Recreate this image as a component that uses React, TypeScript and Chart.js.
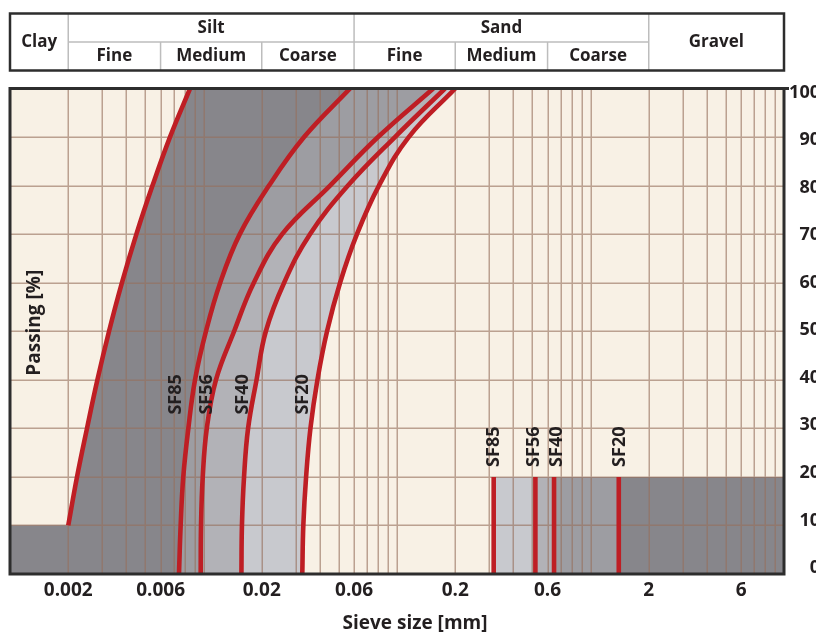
import React, { useEffect, useRef } from "react";
import { Chart, registerables } from "chart.js";

Chart.register(...registerables);

// ---------- data ----------
// passing [%] at which the curve points were read
const PASSING_FULL = [0, 10, 20, 30, 40, 50, 60, 70, 80, 90, 100];
const PASSING_UPPER = [10, 20, 30, 40, 50, 60, 70, 80, 90, 100];

// sieve sizes [mm] of the grading curves
const FINE_LIMIT = [0.002, 0.00222, 0.0025, 0.00283, 0.00325, 0.00379, 0.0045, 0.00545, 0.00671, 0.00852];
const SF85 = [0.00747, 0.00762, 0.00786, 0.00835, 0.00904, 0.0103, 0.0122, 0.0154, 0.0218, 0.0331, 0.0572];
const SF56 = [0.00967, 0.00971, 0.00991, 0.0104, 0.0116, 0.0144, 0.0182, 0.0255, 0.0451, 0.0798, 0.154];
const SF40 = [0.0157, 0.0158, 0.0162, 0.017, 0.0188, 0.021, 0.0261, 0.0355, 0.0558, 0.0976, 0.177];
const SF20 = [0.0324, 0.0328, 0.0339, 0.0357, 0.0388, 0.0435, 0.0508, 0.0621, 0.0807, 0.115, 0.2];

const SERIES_NAMES = ["SF85", "SF56", "SF40", "SF20"];
const SERIES_CURVES = [SF85, SF56, SF40, SF20];
// maximum grain size lines (bottom right)
const MAX_GRAIN = [0.316, 0.519, 0.648, 1.4];
const MAX_GRAIN_PASSING = [0, 20];

// label anchors
const CURVE_LABEL_X = [0.00719, 0.0104, 0.016, 0.0326];
const CURVE_LABEL_Y = 37;
const MAX_LABEL_X = [0.316, 0.509, 0.671, 1.426];

const X_MIN = 0.001;
const X_MAX = 10;
const X_TICKS = [0.002, 0.006, 0.02, 0.06, 0.2, 0.6, 2, 6];
const X_TICK_LABELS = ["0.002", "0.006", "0.02", "0.06", "0.2", "0.6", "2", "6"];
const Y_TICKS = [0, 10, 20, 30, 40, 50, 60, 70, 80, 90, 100];

const CLASS_NAMES = ["Clay", "Silt", "Sand", "Gravel"];
const CLASS_BOUNDS = [0.001, 0.002, 0.06, 2, 10];
const SUBCLASS_NAMES = ["Fine", "Medium", "Coarse", "Fine", "Medium", "Coarse"];
const SUBCLASS_BOUNDS = [0.002, 0.006, 0.02, 0.06, 0.2, 0.6, 2];

// ---------- styles ----------
const RED = "#BE1E24";
const CREAM = "#F8F1E5";
const SHADE = ["#C8C9CE", "#B2B2B7", "#9D9DA2", "#87868B"];
const GRID = "rgba(150,112,92,0.62)";
const FRAME = "#2d2d2d";
const TEXT = "#231F20";
const FONT = '"Open Sans", "DejaVu Sans", sans-serif';

const pts = (xs: number[], ys: number[]) => xs.map((x, i) => ({ x, y: ys[i] }));

function gridValues(): number[] {
  const out: number[] = [];
  for (let e = -3; e <= 0; e++) {
    for (let m = 1; m <= 9; m++) {
      const v = m * Math.pow(10, e);
      if (v > X_MIN * 1.0001 && v < X_MAX * 0.9999) out.push(v);
    }
  }
  return out;
}

const decorPlugin = {
  id: "decor",
  beforeDraw(chart: any) {
    const { ctx, chartArea: a } = chart;
    ctx.save();
    ctx.fillStyle = CREAM;
    ctx.fillRect(a.left, a.top, a.right - a.left, a.bottom - a.top);
    ctx.restore();
  },
  beforeDatasetsDraw(chart: any) {
    // grid over the shaded bands, below the red curves
    const { ctx, chartArea: a, scales } = chart;
    const xs = scales.x;
    const ys = scales.y;
    ctx.save();
    ctx.beginPath();
    ctx.rect(a.left, a.top, a.right - a.left, a.bottom - a.top);
    ctx.clip();
    ctx.strokeStyle = GRID;
    ctx.lineWidth = 1.5;
    ctx.beginPath();
    for (const v of gridValues()) {
      const p = Math.round(xs.getPixelForValue(v)) + 0.25;
      ctx.moveTo(p, a.top);
      ctx.lineTo(p, a.bottom);
    }
    for (const v of Y_TICKS) {
      if (v === 0 || v === 100) continue;
      const p = Math.round(ys.getPixelForValue(v)) + 0.25;
      ctx.moveTo(a.left, p);
      ctx.lineTo(a.right, p);
    }
    ctx.stroke();
    ctx.restore();
  },
  afterDraw(chart: any) {
    const { ctx, chartArea: a, scales } = chart;
    const xs = scales.x;
    const ys = scales.y;
    const px = (v: number) => xs.getPixelForValue(v);

    ctx.save();
    // plot frame
    ctx.strokeStyle = FRAME;
    ctx.lineWidth = 3;
    ctx.strokeRect(a.left, a.top, a.right - a.left, a.bottom - a.top);
    ctx.beginPath();
    ctx.moveTo(a.right, a.top);
    ctx.lineTo(a.right + 5, a.top);
    ctx.stroke();

    // header table
    const hTop = 13.5, hMid = 42, hBot = 70.5;
    const hl = px(CLASS_BOUNDS[0]);
    const hr = px(CLASS_BOUNDS[CLASS_BOUNDS.length - 1]);
    ctx.strokeStyle = "#BDBDBD";
    ctx.lineWidth = 1.5;
    ctx.beginPath();
    for (let i = 1; i < CLASS_BOUNDS.length - 1; i++) {
      const x = px(CLASS_BOUNDS[i]);
      ctx.moveTo(x, hTop);
      ctx.lineTo(x, hBot);
    }
    const subL = SUBCLASS_BOUNDS[0];
    const subR = SUBCLASS_BOUNDS[SUBCLASS_BOUNDS.length - 1];
    ctx.moveTo(px(subL), hMid);
    ctx.lineTo(px(subR), hMid);
    for (const v of SUBCLASS_BOUNDS) {
      if (CLASS_BOUNDS.includes(v)) continue;
      const x = px(v);
      ctx.moveTo(x, hMid);
      ctx.lineTo(x, hBot);
    }
    ctx.stroke();
    ctx.strokeStyle = FRAME;
    ctx.lineWidth = 2.5;
    ctx.strokeRect(hl, hTop, hr - hl, hBot - hTop);

    ctx.fillStyle = TEXT;
    ctx.textAlign = "center";
    ctx.textBaseline = "middle";
    ctx.font = `bold 17px ${FONT}`;
    CLASS_NAMES.forEach((name, i) => {
      const l = CLASS_BOUNDS[i];
      const r = CLASS_BOUNDS[i + 1];
      const cx = (px(l) + px(r)) / 2;
      const hasSub = l >= subL && r <= subR;
      ctx.fillText(name, cx, hasSub ? (hTop + hMid) / 2 : (hTop + hBot) / 2);
    });
    SUBCLASS_NAMES.forEach((name, i) => {
      const cx = (px(SUBCLASS_BOUNDS[i]) + px(SUBCLASS_BOUNDS[i + 1])) / 2;
      ctx.fillText(name, cx, (hMid + hBot) / 2);
    });

    // curve labels
    ctx.font = `bold 18px ${FONT}`;
    SERIES_NAMES.forEach((name, i) => {
      ctx.save();
      ctx.translate(px(CURVE_LABEL_X[i]), ys.getPixelForValue(CURVE_LABEL_Y));
      ctx.rotate(-Math.PI / 2);
      ctx.textAlign = "center";
      ctx.textBaseline = "middle";
      ctx.fillText(name, 0, 0);
      ctx.restore();

      ctx.save();
      ctx.translate(px(MAX_LABEL_X[i]), ys.getPixelForValue(MAX_GRAIN_PASSING[1]) - 10);
      ctx.rotate(-Math.PI / 2);
      ctx.textAlign = "left";
      ctx.textBaseline = "middle";
      ctx.fillText(name, 0, 0);
      ctx.restore();
    });

    // axis titles
    ctx.font = `bold 19px ${FONT}`;
    ctx.textAlign = "center";
    ctx.textBaseline = "middle";
    ctx.fillText("Sieve size [mm]", (a.left + a.right) / 2 + 18, 624);
    ctx.save();
    ctx.translate(a.left + 25, (a.top + a.bottom) / 2 - 8.5);
    ctx.rotate(-Math.PI / 2);
    ctx.fillText("Passing [%]", 0, 0);
    ctx.restore();

    ctx.restore();
  },
};

function curveDataset(label: string, data: any[], fillColor: string) {
  return {
    label,
    data,
    borderColor: RED,
    borderWidth: 4.6,
    backgroundColor: fillColor,
    fill: { value: X_MIN },
    tension: 0.4,
    borderJoinStyle: "round",
    pointRadius: 0,
    pointHoverRadius: 0,
    xAxisID: "x",
    yAxisID: "y",
  };
}

function maxDataset(i: number) {
  return {
    label: SERIES_NAMES[i] + " max",
    data: MAX_GRAIN_PASSING.map((y) => ({ x: MAX_GRAIN[i], y })),
    borderColor: RED,
    borderWidth: 4.6,
    backgroundColor: SHADE[i],
    fill: { value: X_MAX },
    pointRadius: 0,
    pointHoverRadius: 0,
    xAxisID: "x",
    yAxisID: "y",
  };
}

export default function App() {
  const ref = useRef<HTMLCanvasElement>(null);

  useEffect(() => {
    const canvas = ref.current;
    if (!canvas) return;
    const datasets: any[] = [
      curveDataset("Fine limit", pts(FINE_LIMIT, PASSING_UPPER), CREAM),
      ...SERIES_CURVES.map((c, i) => curveDataset(SERIES_NAMES[i], pts(c, PASSING_FULL), SHADE[3 - i])),
      maxDataset(3),
      maxDataset(2),
      maxDataset(1),
      maxDataset(0),
    ];
    const chart = new Chart(canvas, {
      type: "line",
      data: { datasets },
      options: {
        responsive: false,
        animation: false,
        devicePixelRatio: 1,
        indexAxis: "y",
        events: [],
        layout: { padding: { left: 10, top: 88.5, right: 0, bottom: 0 } },
        plugins: {
          legend: { display: false },
          tooltip: { enabled: false },
          filler: { drawTime: "beforeDatasetsDraw", propagate: false },
        },
        scales: {
          x: {
            type: "logarithmic",
            position: "bottom",
            min: X_MIN,
            max: X_MAX,
            bounds: "data",
            grid: { display: false, drawTicks: false },
            border: { display: false },
            afterBuildTicks: (s: any) => {
              s.ticks = X_TICKS.map((v) => ({ value: v }));
            },
            afterFit: (s: any) => {
              s.height = 60;
            },
            ticks: {
              autoSkip: false,
              maxRotation: 0,
              padding: 5,
              color: TEXT,
              font: { family: FONT, size: 19, weight: "bold" },
              callback: (_v: any, i: number) => X_TICK_LABELS[i],
            },
          },
          y: { type: "linear", display: false, min: 0, max: 100 },
          y2: {
            type: "linear",
            axis: "y",
            position: "right",
            min: -1.26,
            max: 100.84,
            bounds: "data",
            grid: { display: false, drawTicks: false },
            border: { display: false },
            afterBuildTicks: (s: any) => {
              s.ticks = Y_TICKS.map((v) => ({ value: v }));
            },
            afterFit: (s: any) => {
              s.width = 36;
            },
            ticks: {
              crossAlign: "far",
              padding: 5,
              color: TEXT,
              font: { family: FONT, size: 18, weight: "bold" },
              callback: (v: any) => String(v),
            },
          },
        },
      } as any,
      plugins: [decorPlugin],
    } as any);
    return () => chart.destroy();
  }, []);

  return (
    <div
      style={{
        position: "fixed",
        left: 0,
        top: 0,
        width: 816,
        height: 634,
        overflow: "hidden",
        background: "#fff",
      }}
    >
      <canvas ref={ref} width={820} height={634} style={{ display: "block", width: 820, height: 634 }} />
    </div>
  );
}
